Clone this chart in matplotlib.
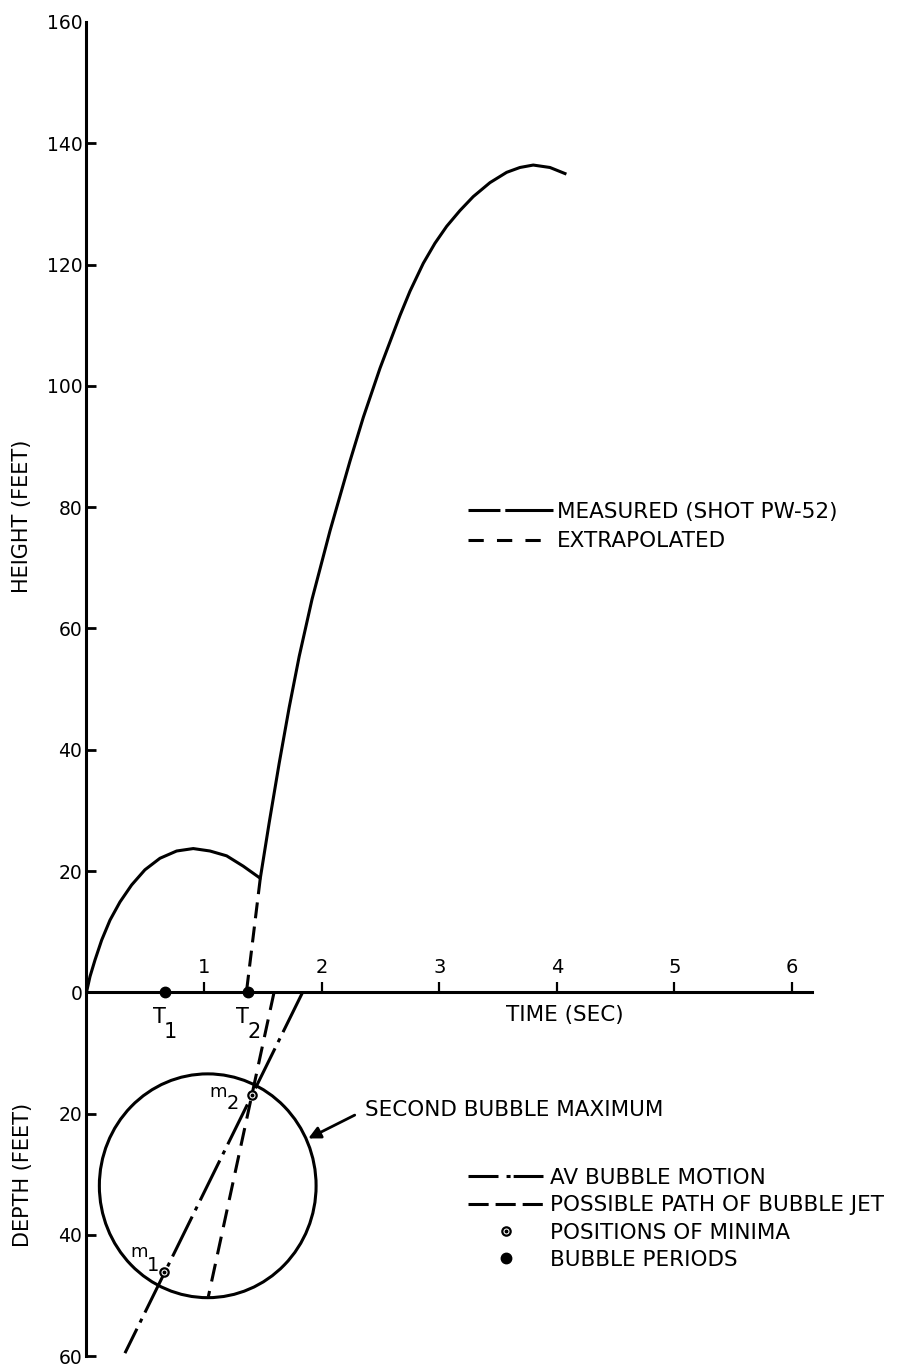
"""Plume height and bubble depth vs time, shot PW-52"""
import matplotlib.pyplot as plt
from matplotlib.lines import Line2D
from matplotlib.patches import Ellipse

plt.rcParams['font.family'] = ['DejaVu Sans']
plt.rcParams['lines.scale_dashes'] = False  # dash lengths in points

# measured plume height (ft) vs time (sec)
t_meas = [0.0, 0.03, 0.072, 0.129, 0.2, 0.285, 0.384, 0.497, 0.625, 0.767,
          0.908, 1.05, 1.192, 1.333, 1.478,
          1.554, 1.639, 1.724, 1.809, 1.918, 2.071, 2.241, 2.354, 2.496,
          2.666, 2.751, 2.864, 2.963, 3.063, 3.176, 3.289, 3.431, 3.573,
          3.686, 3.799, 3.941, 4.069]
h_meas = [0.0, 2.6, 5.3, 8.6, 11.9, 14.9, 17.7, 20.2, 22.1, 23.3,
          23.7, 23.3, 22.5, 20.8, 18.8,
          28.0, 37.8, 47.0, 55.4, 64.8, 76.1, 87.6, 94.8, 102.9,
          111.6, 115.6, 120.2, 123.5, 126.3, 128.9, 131.2, 133.5, 135.2,
          136.0, 136.4, 136.0, 135.0]

# extrapolated part, cusp back down to the second period
t_extra = [1.478, 1.36]
h_extra = [18.8, 0.0]

# below the surface (depth in ft)
t_av = [1.838, 0.327]
d_av = [0.0, 59.5]
t_jet = [1.595, 1.036]
d_jet = [0.0, 50.2]

t_min = [0.66, 1.41]
d_min = [46.2, 17.0]
min_idx = ['1', '2']

t_per = [0.667, 1.376]
per_idx = ['1', '2']

bubble_t, bubble_d = 1.031, 31.9
bubble_w, bubble_h = 1.843, 36.9

x_ticks = [1, 2, 3, 4, 5, 6]
y_ticks = [-60, -40, -20, 0, 20, 40, 60, 80, 100, 120, 140, 160]
y_tick_labels = [str(abs(v)) for v in y_ticks]

LW = 2.2

fig = plt.figure(figsize=(8.98, 13.72), dpi=100)
ax = fig.add_axes([0.0963, 0.01152, 0.8076, 0.9725])
ax.set_xlim(0, 6.167)
ax.set_ylim(-60, 160)

# height curves
ax.plot(t_meas, h_meas, color='k', lw=LW)
ax.plot(t_extra, h_extra, color='k', lw=LW, linestyle=(0, (11.5, 6)))

# bubble motion
ax.plot(t_av, [-d for d in d_av], color='k', lw=LW, linestyle=(0, (32, 5, 3, 5)))
ax.plot(t_jet, [-d for d in d_jet], color='k', lw=LW, linestyle=(0, (13, 7)))
ax.add_patch(Ellipse((bubble_t, -bubble_d), bubble_w, bubble_h,
                     fill=False, ec='k', lw=LW))

ax.plot(t_min, [-d for d in d_min], 'o', ms=6, mfc='white', mec='k', mew=1.6, zorder=5)
ax.plot(t_min, [-d for d in d_min], 'o', ms=1.8, color='k', zorder=6)
# (letter offset, index offset) in points from each minimum
m_offsets = [((-18, 14.4), (-7.6, 5)), ((-24.5, 2.5), (-13.7, -6.1))]
for t, d, idx, (off_m, off_i) in zip(t_min, d_min, min_idx, m_offsets):
    ax.annotate('m', (t, -d), xytext=off_m, textcoords='offset points',
                ha='center', va='center', fontsize=13)
    ax.annotate(idx, (t, -d), xytext=off_i, textcoords='offset points',
                ha='center', va='center', fontsize=14)

ax.plot(t_per, [0, 0], 'o', ms=7.5, color='k', zorder=5, clip_on=False)
for t, idx in zip(t_per, per_idx):
    ax.annotate('T', (t, 0), xytext=(-4.3, -10.8), textcoords='offset points',
                ha='center', va='top', fontsize=15)
    ax.annotate(idx, (t, 0), xytext=(4, -21.6), textcoords='offset points',
                ha='center', va='top', fontsize=15)

ax.annotate('SECOND BUBBLE MAXIMUM', xy=(1.886, -24.1), xytext=(2.368, -19.4),
            ha='left', va='center', fontsize=15.5,
            arrowprops=dict(arrowstyle='-|>', color='k', lw=2, relpos=(0, 0.5),
                            shrinkA=6, shrinkB=0, mutation_scale=18))

# axes
for side in ['top', 'right']:
    ax.spines[side].set_visible(False)
ax.spines['bottom'].set_position(('data', 0))
ax.spines['bottom'].set_linewidth(LW)
ax.spines['left'].set_linewidth(LW)

ax.set_xticks(x_ticks)
ax.set_yticks(y_ticks)
ax.set_yticklabels(y_tick_labels)
ax.tick_params(axis='x', direction='in', length=7, width=1.6, pad=-25, labelsize=14)
ax.tick_params(axis='y', direction='in', length=7, width=2, pad=3, labelsize=13.5)
ax.yaxis.get_major_ticks()[-1].tick1line.set_visible(False)

ax.set_xlabel('TIME (SEC)', fontsize=15.5)
ax.xaxis.set_label_coords(0.66, 0.263)
ax.text(-0.089, (60 + 78.5) / 220, 'HEIGHT (FEET)', transform=ax.transAxes,
        rotation=90, ha='center', va='center', fontsize=15)
ax.text(-0.087, (60 - 30.1) / 220, 'DEPTH (FEET)', transform=ax.transAxes,
        rotation=90, ha='center', va='center', fontsize=15)

# legends
h_meas_leg = Line2D([], [], color='k', lw=LW, linestyle=(0, (23, 3.5, 60, 1)))
h_extra_leg = Line2D([], [], color='k', lw=LW, linestyle=(0, (11, 9.5)))
leg1 = ax.legend([h_meas_leg, h_extra_leg], ['MEASURED (SHOT PW-52)', 'EXTRAPOLATED'],
                 loc='upper left', bbox_to_anchor=(468 / 898, 1 - 502 / 1372),
                 bbox_transform=fig.transFigure, frameon=False, fontsize=15.5,
                 handlelength=3.94, handletextpad=0.2, labelspacing=0.42,
                 borderpad=0, borderaxespad=0)
ax.add_artist(leg1)

h_av_leg = Line2D([], [], color='k', lw=LW, linestyle=(0, (21.6, 5.8, 2.9, 2.2, 25, 1)))
h_jet_leg = Line2D([], [], color='k', lw=LW, linestyle=(0, (14.5, 5)))
h_min_leg = (Line2D([], [], marker='o', ls='', ms=6, mfc='white', mec='k', mew=1.6),
             Line2D([], [], marker='o', ls='', ms=1.8, color='k'))
h_per_leg = Line2D([], [], marker='o', ls='', ms=7.5, color='k')
ax.legend([h_av_leg, h_jet_leg, h_min_leg, h_per_leg],
          ['AV BUBBLE MOTION', 'POSSIBLE PATH OF BUBBLE JET',
           'POSITIONS OF MINIMA', 'BUBBLE PERIODS'],
          loc='upper left', bbox_to_anchor=(468 / 898, 1 - 1168 / 1372),
          bbox_transform=fig.transFigure, frameon=False, fontsize=15.5,
          handlelength=3.49, handletextpad=0.3, labelspacing=0.34,
          borderpad=0, borderaxespad=0)

fig.savefig('out.png', dpi=100)
